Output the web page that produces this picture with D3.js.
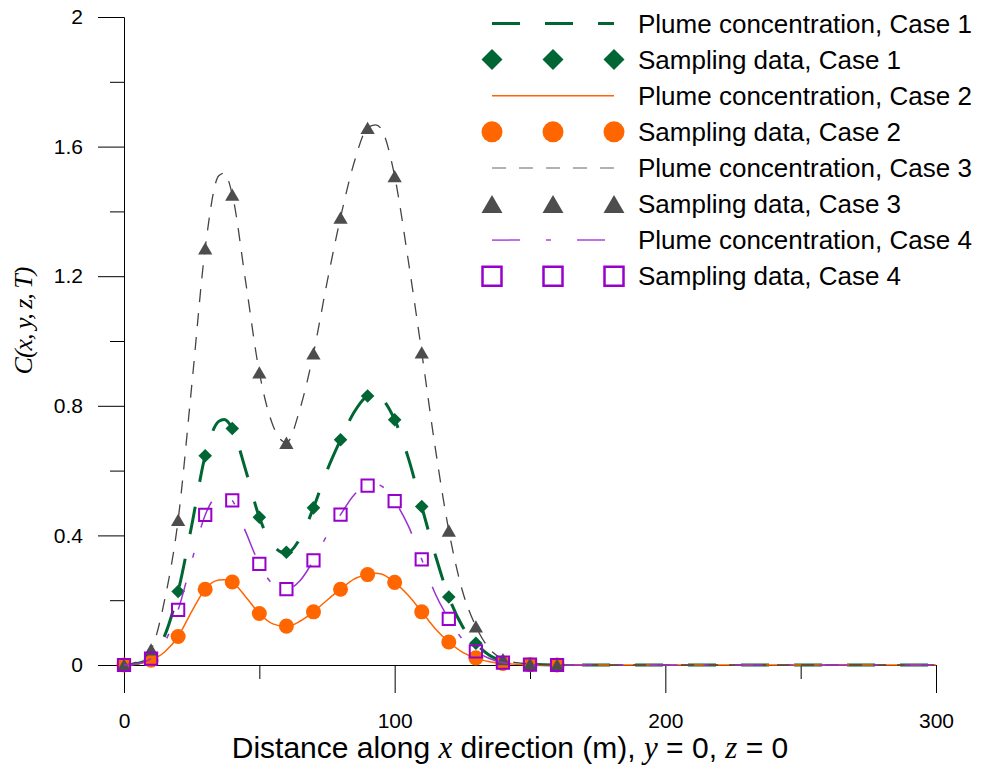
<!DOCTYPE html>
<html>
<head>
<meta charset="utf-8">
<script src="https://cdn.jsdelivr.net/npm/d3@7"></script>
<style>
  body { margin: 0; background: #fff; }
  .tick text { font-family: "Liberation Sans", Arial, sans-serif; font-size: 21px; fill: #000; }
  .tick line, .domain { stroke: #000; }
</style>
</head>
<body>
<div id="chart"></div>
<script>
// chart size
var svgWidth = 982;
var svgHeight = 769;

// sampling locations (m)
var sampleX = [0, 10, 20, 30, 40, 50, 60, 70, 80, 90, 100, 110, 120, 130, 140, 150, 160];
var case1Samples = [0, 0.02, 0.227, 0.646, 0.730, 0.456, 0.348, 0.485, 0.695, 0.830, 0.757, 0.489, 0.210, 0.067, 0.01, 0.002, 0];
var case2Samples = [0, 0.015, 0.088, 0.234, 0.256, 0.159, 0.120, 0.164, 0.234, 0.279, 0.255, 0.164, 0.071, 0.022, 0.005, 0.001, 0];
var case3Samples = [0, 0.048, 0.448, 1.286, 1.452, 0.903, 0.686, 0.962, 1.381, 1.658, 1.509, 0.965, 0.415, 0.119, 0.018, 0.003, 0];
var case4Samples = [0, 0.02, 0.170, 0.463, 0.508, 0.312, 0.234, 0.323, 0.464, 0.554, 0.506, 0.326, 0.142, 0.042, 0.007, 0.001, 0];

// plume concentration curves
var curveX = [0, 5, 10, 15, 20, 25, 30, 35, 37, 40, 45, 50, 55, 60, 65, 70, 75, 80, 85, 90, 93, 95, 100, 105, 110, 115, 120, 125, 130, 135, 140, 145, 150, 160, 300];
var case1Curve = [0, 0.005, 0.025, 0.09, 0.227, 0.43, 0.646, 0.752, 0.758, 0.730, 0.60, 0.456, 0.37, 0.345, 0.39, 0.485, 0.60, 0.695, 0.78, 0.830, 0.836, 0.825, 0.757, 0.64, 0.489, 0.34, 0.210, 0.12, 0.067, 0.03, 0.012, 0.005, 0.002, 0, 0];
var case2Curve = [0, 0.003, 0.015, 0.04, 0.088, 0.165, 0.234, 0.262, 0.263, 0.256, 0.21, 0.159, 0.127, 0.119, 0.135, 0.164, 0.20, 0.234, 0.265, 0.279, 0.283, 0.281, 0.255, 0.215, 0.164, 0.112, 0.071, 0.04, 0.022, 0.01, 0.005, 0.002, 0.001, 0, 0];
var case3Curve = [0, 0.01, 0.048, 0.20, 0.448, 0.86, 1.286, 1.51, 1.518, 1.452, 1.18, 0.903, 0.74, 0.686, 0.79, 0.962, 1.18, 1.381, 1.55, 1.658, 1.667, 1.655, 1.509, 1.25, 0.965, 0.67, 0.415, 0.23, 0.119, 0.05, 0.018, 0.007, 0.003, 0, 0];
var case4Curve = [0, 0.004, 0.02, 0.07, 0.170, 0.32, 0.463, 0.525, 0.527, 0.508, 0.41, 0.312, 0.25, 0.234, 0.26, 0.323, 0.40, 0.464, 0.525, 0.554, 0.558, 0.553, 0.506, 0.43, 0.326, 0.22, 0.142, 0.08, 0.042, 0.02, 0.007, 0.003, 0.001, 0, 0];

// ticks
var xMajorTicks = [0, 100, 200, 300];
var xMinorTicks = [50, 150, 250];
var yMajorTicks = [0, 0.4, 0.8, 1.2, 1.6, 2];
var yMinorTicks = [0.2, 0.6, 1.0, 1.4, 1.8];

var legendLabels = ["Plume concentration, Case 1", "Sampling data, Case 1",
                    "Plume concentration, Case 2", "Sampling data, Case 2",
                    "Plume concentration, Case 3", "Sampling data, Case 3",
                    "Plume concentration, Case 4", "Sampling data, Case 4"];

// series styles
var series = [
    {curve: case1Curve, samples: case1Samples, line: "#006633", width: 3, dash: "28,25",
     symbol: d3.symbolSquare, size: 92, legendSize: 220, rotate: 45, fill: "#006633", stroke: "none"},
    {curve: case2Curve, samples: case2Samples, line: "#ff6600", width: 1.5, dash: null,
     symbol: d3.symbolCircle, size: 177, legendSize: 346, rotate: 0, fill: "#ff6600", stroke: "none"},
    {curve: case3Curve, samples: case3Samples, line: "#444", width: 1.3, dash: "13,11",
     symbol: d3.symbolTriangle, size: 88, legendSize: 190, rotate: 0, fill: "#4d4d4d", stroke: "none"},
    {curve: case4Curve, samples: case4Samples, line: "#9933cc", width: 1.5, dash: "28,26,5,26",
     symbol: d3.symbolSquare, size: 150, legendSize: 361, rotate: 0, fill: "none", stroke: "#9900cc"}
];

var svg = d3.select("#chart")
            .append("svg")
            .attr("width", svgWidth)
            .attr("height", svgHeight);

// scales
var xScale = d3.scaleLinear().domain([0, 300]).range([124, 936]);
var yScale = d3.scaleLinear().domain([0, 2]).range([665, 17]);

// x axis
svg.append("g")
    .attr("transform", `translate(0,${yScale(0)})`)
    .call(d3.axisBottom(xScale).tickValues(xMinorTicks).tickSize(14).tickSizeOuter(0).tickFormat(""));
svg.append("g")
    .attr("transform", `translate(0,${yScale(0)})`)
    .call(d3.axisBottom(xScale).tickValues(xMajorTicks).tickSize(28).tickSizeOuter(0).tickPadding(20).tickFormat(d3.format("d")));

// y axis
svg.append("g")
    .attr("transform", `translate(${xScale(0)},0)`)
    .call(d3.axisLeft(yScale).tickValues(yMinorTicks).tickSize(14).tickSizeOuter(0).tickFormat(""));
svg.append("g")
    .attr("transform", `translate(${xScale(0)},0)`)
    .call(d3.axisLeft(yScale).tickValues(yMajorTicks).tickSize(26).tickSizeOuter(0).tickPadding(15)
        .tickFormat(d => d === 0 ? "0" : d3.format("~g")(d)));

// axis titles
var xTitle = svg.append("text")
    .attr("x", 510)
    .attr("y", 758)
    .attr("text-anchor", "middle")
    .style("font-family", "'Liberation Sans', Arial, sans-serif")
    .style("font-size", "30px");
var xParts = [["Distance along ", false], ["x", true], [" direction (m), ", false], ["y", true],
              [" = 0, ", false], ["z", true], [" = 0", false]];
xParts.forEach(function(p) {
    xTitle.append("tspan")
        .text(p[0])
        .style("font-family", p[1] ? "'Liberation Serif', 'Times New Roman', serif" : null)
        .style("font-style", p[1] ? "italic" : null)
        .style("font-size", p[1] ? "31px" : null);
});

svg.append("text")
    .attr("transform", "translate(32,321) rotate(-90)")
    .attr("text-anchor", "middle")
    .style("font-family", "'Liberation Serif', 'Times New Roman', serif")
    .style("font-style", "italic")
    .style("font-size", "26px")
    .style("letter-spacing", "-1px")
    .text("C(x, y, z, T)");

// symbol offset so triangles sit on their box centre
function symbolTransform(s, size, x, y) {
    var dy = 0;
    if (s.symbol === d3.symbolTriangle) {
        dy = Math.sqrt(size / (Math.sqrt(3) * 3)) / 2;
    }
    return `translate(${x},${y + dy}) rotate(${s.rotate})`;
}

var line = d3.line()
    .x((d, i) => xScale(curveX[i]))
    .y(d => yScale(d))
    .curve(d3.curveMonotoneX);

// draw curves and samples
series.forEach(function(s) {
    svg.append("path")
        .datum(s.curve)
        .attr("d", line)
        .attr("fill", "none")
        .attr("stroke", s.line)
        .attr("stroke-width", s.width)
        .attr("stroke-dasharray", s.dash);

    svg.append("g").selectAll("path")
        .data(s.samples)
        .enter()
        .append("path")
        .attr("d", d3.symbol().type(s.symbol).size(s.size))
        .attr("transform", (d, i) => symbolTransform(s, s.size, xScale(sampleX[i]), yScale(d)))
        .attr("fill", s.fill)
        .attr("stroke", s.stroke)
        .attr("stroke-width", 2);
});

// legend
var legend = svg.append("g");
var rowY = d3.scaleLinear().domain([0, 1]).range([23.5, 59.6]);
var markerX = [492, 553, 614];

legendLabels.forEach(function(label, i) {
    var s = series[Math.floor(i / 2)];
    var y = rowY(i);
    if (i % 2 === 0) {
        legend.append("line")
            .attr("x1", 492)
            .attr("x2", 614)
            .attr("y1", y)
            .attr("y2", y)
            .attr("stroke", i === 4 ? "#999" : (i === 6 ? "#aa44dd" : s.line))
            .attr("stroke-width", s.width === 3 ? 3 : 1.5)
            .attr("stroke-dasharray", i === 4 ? "14,13" : s.dash);
    } else {
        legend.selectAll(null)
            .data(markerX)
            .enter()
            .append("path")
            .attr("d", d3.symbol().type(s.symbol).size(s.legendSize))
            .attr("transform", d => symbolTransform(s, s.legendSize, d, y))
            .attr("fill", s.fill)
            .attr("stroke", s.stroke)
            .attr("stroke-width", 2.5);
    }
    legend.append("text")
        .attr("x", 638)
        .attr("y", y + 9)
        .style("font-family", "'Liberation Sans', Arial, sans-serif")
        .style("font-size", "26px")
        .text(label);
});
</script>
</body>
</html>
